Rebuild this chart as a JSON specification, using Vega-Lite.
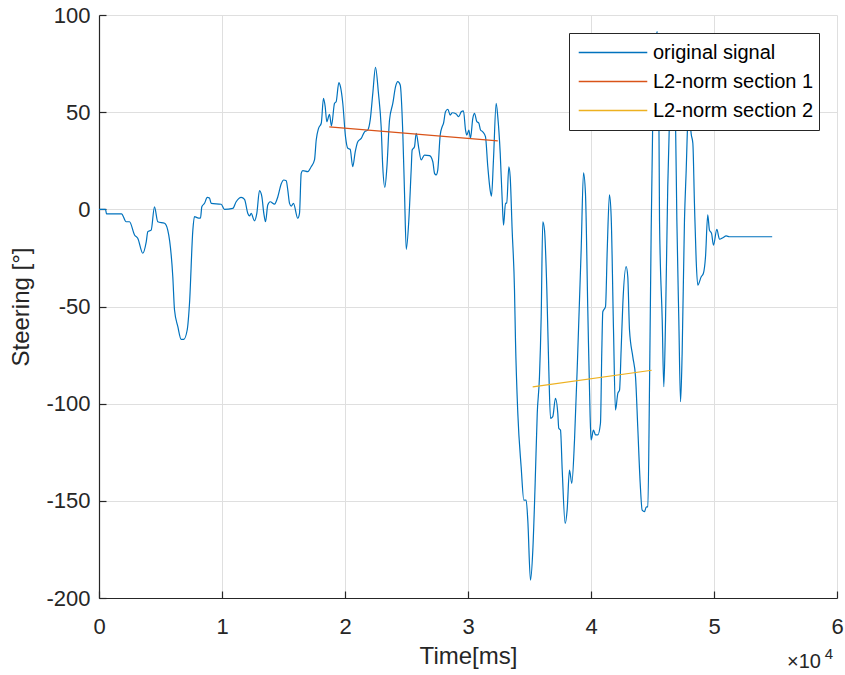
{
  "$schema": "https://vega.github.io/schema/vega-lite/v6.json",
  "width": 738,
  "height": 583,
  "autosize": {"type": "none"},
  "padding": {"left": 99, "top": 15, "right": 8, "bottom": 77},
  "background": "white",
  "config": {
    "font": "Liberation Sans",
    "view": {"stroke": null},
    "axis": {
      "labelFont": "Liberation Sans",
      "titleFont": "Liberation Sans",
      "labelFontSize": 22,
      "titleFontSize": 24,
      "titleFontWeight": "normal",
      "labelColor": "#262626",
      "titleColor": "#262626",
      "domainColor": "#262626",
      "domainWidth": 1.2,
      "tickColor": "#262626",
      "tickWidth": 1.2,
      "tickSize": -7,
      "gridColor": "#dfdfdf",
      "gridWidth": 1,
      "labelFlush": false
    }
  },
  "datasets": {
    "signal": [
      {"t": 0, "v": 0, "series": "original signal"},
      {"t": 530, "v": 0, "series": "original signal"},
      {"t": 610, "v": -2.3, "series": "original signal"},
      {"t": 1830, "v": -2.3, "series": "original signal"},
      {"t": 2210, "v": -6.4, "series": "original signal"},
      {"t": 2480, "v": -6.4, "series": "original signal"},
      {"t": 2890, "v": -13.2, "series": "original signal"},
      {"t": 3150, "v": -14.9, "series": "original signal"},
      {"t": 3560, "v": -22.6, "series": "original signal"},
      {"t": 3840, "v": -16.7, "series": "original signal"},
      {"t": 3970, "v": -11.5, "series": "original signal"},
      {"t": 4240, "v": -10.7, "series": "original signal"},
      {"t": 4510, "v": 1.3, "series": "original signal"},
      {"t": 4780, "v": -6.4, "series": "original signal"},
      {"t": 5330, "v": -7.2, "series": "original signal"},
      {"t": 5590, "v": -10.7, "series": "original signal"},
      {"t": 6000, "v": -34.7, "series": "original signal"},
      {"t": 6140, "v": -51.8, "series": "original signal"},
      {"t": 6410, "v": -60.4, "series": "original signal"},
      {"t": 6680, "v": -66.9, "series": "original signal"},
      {"t": 6890, "v": -66.9, "series": "original signal"},
      {"t": 7170, "v": -62.1, "series": "original signal"},
      {"t": 7360, "v": -48.2, "series": "original signal"},
      {"t": 7630, "v": -10.7, "series": "original signal"},
      {"t": 7760, "v": -3.8, "series": "original signal"},
      {"t": 8090, "v": -4.5, "series": "original signal"},
      {"t": 8250, "v": -4.5, "series": "original signal"},
      {"t": 8360, "v": 1.3, "series": "original signal"},
      {"t": 8580, "v": 3.1, "series": "original signal"},
      {"t": 8800, "v": 6.2, "series": "original signal"},
      {"t": 8980, "v": 5.8, "series": "original signal"},
      {"t": 9120, "v": 3.1, "series": "original signal"},
      {"t": 9930, "v": 2.6, "series": "original signal"},
      {"t": 10200, "v": 0, "series": "original signal"},
      {"t": 10880, "v": 0.5, "series": "original signal"},
      {"t": 11150, "v": 3.9, "series": "original signal"},
      {"t": 11560, "v": 6.2, "series": "original signal"},
      {"t": 11830, "v": 5.1, "series": "original signal"},
      {"t": 12100, "v": -2.1, "series": "original signal"},
      {"t": 12240, "v": -3.4, "series": "original signal"},
      {"t": 12370, "v": -2.1, "series": "original signal"},
      {"t": 12640, "v": -5.9, "series": "original signal"},
      {"t": 12830, "v": -2.1, "series": "original signal"},
      {"t": 13050, "v": 9.6, "series": "original signal"},
      {"t": 13240, "v": 6.5, "series": "original signal"},
      {"t": 13400, "v": -2.1, "series": "original signal"},
      {"t": 13540, "v": -6.4, "series": "original signal"},
      {"t": 13720, "v": 2.2, "series": "original signal"},
      {"t": 13920, "v": 3.9, "series": "original signal"},
      {"t": 14270, "v": 2.7, "series": "original signal"},
      {"t": 14540, "v": 6.5, "series": "original signal"},
      {"t": 14810, "v": 13.0, "series": "original signal"},
      {"t": 15020, "v": 15.1, "series": "original signal"},
      {"t": 15220, "v": 14.7, "series": "original signal"},
      {"t": 15350, "v": 9.9, "series": "original signal"},
      {"t": 15490, "v": 3.1, "series": "original signal"},
      {"t": 15630, "v": 1.7, "series": "original signal"},
      {"t": 15810, "v": 3.1, "series": "original signal"},
      {"t": 16160, "v": -4.6, "series": "original signal"},
      {"t": 16300, "v": -2.1, "series": "original signal"},
      {"t": 16440, "v": 18.5, "series": "original signal"},
      {"t": 16570, "v": 19.9, "series": "original signal"},
      {"t": 16980, "v": 19.4, "series": "original signal"},
      {"t": 17250, "v": 21.9, "series": "original signal"},
      {"t": 17520, "v": 25.4, "series": "original signal"},
      {"t": 17660, "v": 35.7, "series": "original signal"},
      {"t": 17850, "v": 41.7, "series": "original signal"},
      {"t": 18070, "v": 44.3, "series": "original signal"},
      {"t": 18250, "v": 57.1, "series": "original signal"},
      {"t": 18390, "v": 52.8, "series": "original signal"},
      {"t": 18520, "v": 45.1, "series": "original signal"},
      {"t": 18740, "v": 48.9, "series": "original signal"},
      {"t": 18900, "v": 42.9, "series": "original signal"},
      {"t": 19150, "v": 54.6, "series": "original signal"},
      {"t": 19280, "v": 55.4, "series": "original signal"},
      {"t": 19500, "v": 65.2, "series": "original signal"},
      {"t": 19630, "v": 63.1, "series": "original signal"},
      {"t": 19820, "v": 54.6, "series": "original signal"},
      {"t": 20040, "v": 37.4, "series": "original signal"},
      {"t": 20230, "v": 31.4, "series": "original signal"},
      {"t": 20420, "v": 30.9, "series": "original signal"},
      {"t": 20630, "v": 21.9, "series": "original signal"},
      {"t": 20830, "v": 29.6, "series": "original signal"},
      {"t": 21040, "v": 34.8, "series": "original signal"},
      {"t": 21320, "v": 36.5, "series": "original signal"},
      {"t": 21590, "v": 39.9, "series": "original signal"},
      {"t": 21850, "v": 40.8, "series": "original signal"},
      {"t": 22050, "v": 46.0, "series": "original signal"},
      {"t": 22260, "v": 59.7, "series": "original signal"},
      {"t": 22480, "v": 73.1, "series": "original signal"},
      {"t": 22720, "v": 59.7, "series": "original signal"},
      {"t": 22940, "v": 42.5, "series": "original signal"},
      {"t": 23070, "v": 21.9, "series": "original signal"},
      {"t": 23240, "v": 11.3, "series": "original signal"},
      {"t": 23400, "v": 21.1, "series": "original signal"},
      {"t": 23620, "v": 46.0, "series": "original signal"},
      {"t": 23890, "v": 54.6, "series": "original signal"},
      {"t": 24110, "v": 63.1, "series": "original signal"},
      {"t": 24290, "v": 65.7, "series": "original signal"},
      {"t": 24490, "v": 64.0, "series": "original signal"},
      {"t": 24700, "v": 39.1, "series": "original signal"},
      {"t": 24840, "v": 8.2, "series": "original signal"},
      {"t": 24980, "v": -20.6, "series": "original signal"},
      {"t": 25190, "v": -5.5, "series": "original signal"},
      {"t": 25380, "v": 20.2, "series": "original signal"},
      {"t": 25460, "v": 30.5, "series": "original signal"},
      {"t": 25650, "v": 32.2, "series": "original signal"},
      {"t": 25790, "v": 39.1, "series": "original signal"},
      {"t": 26000, "v": 31.4, "series": "original signal"},
      {"t": 26190, "v": 25.4, "series": "original signal"},
      {"t": 26460, "v": 27.9, "series": "original signal"},
      {"t": 26870, "v": 27.6, "series": "original signal"},
      {"t": 27140, "v": 24.5, "series": "original signal"},
      {"t": 27280, "v": 18.5, "series": "original signal"},
      {"t": 27410, "v": 17.7, "series": "original signal"},
      {"t": 27540, "v": 20.2, "series": "original signal"},
      {"t": 27740, "v": 38.2, "series": "original signal"},
      {"t": 27900, "v": 42.5, "series": "original signal"},
      {"t": 28010, "v": 44.3, "series": "original signal"},
      {"t": 28170, "v": 50.2, "series": "original signal"},
      {"t": 28360, "v": 51.5, "series": "original signal"},
      {"t": 28550, "v": 48.5, "series": "original signal"},
      {"t": 28720, "v": 49.7, "series": "original signal"},
      {"t": 29040, "v": 49.0, "series": "original signal"},
      {"t": 29250, "v": 47.7, "series": "original signal"},
      {"t": 29450, "v": 50.2, "series": "original signal"},
      {"t": 29630, "v": 50.7, "series": "original signal"},
      {"t": 29800, "v": 40.8, "series": "original signal"},
      {"t": 29900, "v": 38.2, "series": "original signal"},
      {"t": 30070, "v": 40.8, "series": "original signal"},
      {"t": 30200, "v": 36.5, "series": "original signal"},
      {"t": 30390, "v": 46.8, "series": "original signal"},
      {"t": 30530, "v": 49.4, "series": "original signal"},
      {"t": 30720, "v": 45.1, "series": "original signal"},
      {"t": 30880, "v": 44.4, "series": "original signal"},
      {"t": 31020, "v": 40.8, "series": "original signal"},
      {"t": 31200, "v": 39.9, "series": "original signal"},
      {"t": 31420, "v": 37.4, "series": "original signal"},
      {"t": 31610, "v": 21.9, "series": "original signal"},
      {"t": 31800, "v": 9.9, "series": "original signal"},
      {"t": 31910, "v": 6.8, "series": "original signal"},
      {"t": 32070, "v": 25.4, "series": "original signal"},
      {"t": 32290, "v": 54.6, "series": "original signal"},
      {"t": 32420, "v": 47.7, "series": "original signal"},
      {"t": 32620, "v": 28.8, "series": "original signal"},
      {"t": 32780, "v": 4.8, "series": "original signal"},
      {"t": 32890, "v": -8.1, "series": "original signal"},
      {"t": 33050, "v": 3.1, "series": "original signal"},
      {"t": 33150, "v": 3.2, "series": "original signal"},
      {"t": 33320, "v": 21.9, "series": "original signal"},
      {"t": 33430, "v": 16.8, "series": "original signal"},
      {"t": 33590, "v": -10.7, "series": "original signal"},
      {"t": 33780, "v": -41.5, "series": "original signal"},
      {"t": 33860, "v": -67.3, "series": "original signal"},
      {"t": 34050, "v": -105.0, "series": "original signal"},
      {"t": 34320, "v": -132.5, "series": "original signal"},
      {"t": 34540, "v": -149.6, "series": "original signal"},
      {"t": 34730, "v": -149.6, "series": "original signal"},
      {"t": 34860, "v": -159.9, "series": "original signal"},
      {"t": 35080, "v": -190.8, "series": "original signal"},
      {"t": 35270, "v": -175.4, "series": "original signal"},
      {"t": 35460, "v": -141.0, "series": "original signal"},
      {"t": 35630, "v": -105.0, "series": "original signal"},
      {"t": 35810, "v": -86.2, "series": "original signal"},
      {"t": 35950, "v": -55.3, "series": "original signal"},
      {"t": 36080, "v": -6.4, "series": "original signal"},
      {"t": 36220, "v": -10.7, "series": "original signal"},
      {"t": 36410, "v": -41.5, "series": "original signal"},
      {"t": 36570, "v": -82.7, "series": "original signal"},
      {"t": 36710, "v": -107.6, "series": "original signal"},
      {"t": 36890, "v": -106.7, "series": "original signal"},
      {"t": 37110, "v": -97.3, "series": "original signal"},
      {"t": 37300, "v": -105.0, "series": "original signal"},
      {"t": 37380, "v": -112.7, "series": "original signal"},
      {"t": 37520, "v": -113.6, "series": "original signal"},
      {"t": 37660, "v": -134.2, "series": "original signal"},
      {"t": 37900, "v": -161.6, "series": "original signal"},
      {"t": 38060, "v": -154.8, "series": "original signal"},
      {"t": 38250, "v": -134.2, "series": "original signal"},
      {"t": 38440, "v": -141.0, "series": "original signal"},
      {"t": 38660, "v": -118.7, "series": "original signal"},
      {"t": 38930, "v": -72.4, "series": "original signal"},
      {"t": 39200, "v": -21.0, "series": "original signal"},
      {"t": 39390, "v": 18.8, "series": "original signal"},
      {"t": 39550, "v": 8.2, "series": "original signal"},
      {"t": 39740, "v": -51.8, "series": "original signal"},
      {"t": 39930, "v": -106.7, "series": "original signal"},
      {"t": 40010, "v": -118.7, "series": "original signal"},
      {"t": 40200, "v": -113.6, "series": "original signal"},
      {"t": 40370, "v": -116.1, "series": "original signal"},
      {"t": 40550, "v": -116.1, "series": "original signal"},
      {"t": 40770, "v": -110.1, "series": "original signal"},
      {"t": 40880, "v": -72.4, "series": "original signal"},
      {"t": 40960, "v": -52.7, "series": "original signal"},
      {"t": 41180, "v": -50.1, "series": "original signal"},
      {"t": 41320, "v": -20.9, "series": "original signal"},
      {"t": 41500, "v": 7.4, "series": "original signal"},
      {"t": 41640, "v": -3.8, "series": "original signal"},
      {"t": 41830, "v": -62.1, "series": "original signal"},
      {"t": 41990, "v": -103.3, "series": "original signal"},
      {"t": 42180, "v": -94.7, "series": "original signal"},
      {"t": 42320, "v": -93.0, "series": "original signal"},
      {"t": 42450, "v": -72.4, "series": "original signal"},
      {"t": 42590, "v": -48.4, "series": "original signal"},
      {"t": 42860, "v": -29.5, "series": "original signal"},
      {"t": 42990, "v": -34.7, "series": "original signal"},
      {"t": 43130, "v": -62.1, "series": "original signal"},
      {"t": 43400, "v": -75.9, "series": "original signal"},
      {"t": 43620, "v": -86.2, "series": "original signal"},
      {"t": 43800, "v": -111.9, "series": "original signal"},
      {"t": 44000, "v": -141.0, "series": "original signal"},
      {"t": 44160, "v": -154.8, "series": "original signal"},
      {"t": 44350, "v": -155.6, "series": "original signal"},
      {"t": 44490, "v": -153.2, "series": "original signal"},
      {"t": 44620, "v": -153.1, "series": "original signal"},
      {"t": 44760, "v": -89.6, "series": "original signal"},
      {"t": 44890, "v": -12.4, "series": "original signal"},
      {"t": 45020, "v": 46.0, "series": "original signal"},
      {"t": 45160, "v": 76.8, "series": "original signal"},
      {"t": 45380, "v": 91.4, "series": "original signal"},
      {"t": 45490, "v": 76.8, "series": "original signal"},
      {"t": 45570, "v": -5.5, "series": "original signal"},
      {"t": 45790, "v": -57.0, "series": "original signal"},
      {"t": 45920, "v": -91.3, "series": "original signal"},
      {"t": 46060, "v": -57.0, "series": "original signal"},
      {"t": 46240, "v": 11.6, "series": "original signal"},
      {"t": 46380, "v": 46.0, "series": "original signal"},
      {"t": 46540, "v": 71.7, "series": "original signal"},
      {"t": 46710, "v": 71.7, "series": "original signal"},
      {"t": 46870, "v": 46.0, "series": "original signal"},
      {"t": 46980, "v": -5.5, "series": "original signal"},
      {"t": 47140, "v": -57.0, "series": "original signal"},
      {"t": 47280, "v": -99.0, "series": "original signal"},
      {"t": 47410, "v": -74.1, "series": "original signal"},
      {"t": 47600, "v": -5.5, "series": "original signal"},
      {"t": 47740, "v": 20.2, "series": "original signal"},
      {"t": 47870, "v": 46.0, "series": "original signal"},
      {"t": 47970, "v": 53.6, "series": "original signal"},
      {"t": 48050, "v": 46.0, "series": "original signal"},
      {"t": 48140, "v": 39.1, "series": "original signal"},
      {"t": 48280, "v": 34.0, "series": "original signal"},
      {"t": 48410, "v": 3.1, "series": "original signal"},
      {"t": 48550, "v": -26.1, "series": "original signal"},
      {"t": 48680, "v": -39.0, "series": "original signal"},
      {"t": 48960, "v": -34.7, "series": "original signal"},
      {"t": 49140, "v": -32.9, "series": "original signal"},
      {"t": 49310, "v": -24.4, "series": "original signal"},
      {"t": 49490, "v": -2.9, "series": "original signal"},
      {"t": 49630, "v": -10.7, "series": "original signal"},
      {"t": 49800, "v": -12.4, "series": "original signal"},
      {"t": 49960, "v": -18.4, "series": "original signal"},
      {"t": 50230, "v": -10.3, "series": "original signal"},
      {"t": 50450, "v": -15.4, "series": "original signal"},
      {"t": 50720, "v": -14.6, "series": "original signal"},
      {"t": 50990, "v": -13.7, "series": "original signal"},
      {"t": 51260, "v": -14.1, "series": "original signal"},
      {"t": 54730, "v": -14.1, "series": "original signal"},
      {"t": 18720, "v": 42.4, "series": "L2-norm section 1"},
      {"t": 32420, "v": 35.2, "series": "L2-norm section 1"},
      {"t": 35260, "v": -91.4, "series": "L2-norm section 2"},
      {"t": 44940, "v": -82.8, "series": "L2-norm section 2"}
    ],
    "exponent": [{"base": "×10", "power": "4"}]
  },
  "layer": [
    {
      "data": {"name": "signal"},
      "mark": {"type": "line", "strokeWidth": 1.2, "interpolate": "monotone", "clip": true},
      "encoding": {
        "x": {
          "field": "t", "type": "quantitative",
          "scale": {"domain": [0, 60000], "nice": false, "zero": false},
          "axis": {
            "values": [0, 10000, 20000, 30000, 40000, 50000, 60000],
            "labelExpr": "'' + (datum.value / 10000)",
            "title": "Time[ms]",
            "labelPadding": 25,
            "titlePadding": 7
          }
        },
        "y": {
          "field": "v", "type": "quantitative",
          "scale": {"domain": [-200, 100], "nice": false, "zero": false},
          "axis": {
            "values": [-200, -150, -100, -50, 0, 50, 100],
            "labelExpr": "'' + datum.value",
            "title": "Steering [°]",
            "labelPadding": 16,
            "titlePadding": 12
          }
        },
        "color": {
          "field": "series", "type": "nominal",
          "scale": {
            "domain": ["original signal", "L2-norm section 1", "L2-norm section 2"],
            "range": ["#0072BD", "#D95319", "#EDB120"]
          },
          "legend": {
            "title": null,
            "orient": "top-right",
            "offset": 18,
            "fillColor": "white",
            "strokeColor": "#262626",
            "padding": 5,
            "symbolType": "stroke",
            "symbolSize": 4700,
            "symbolStrokeWidth": 1.3,
            "symbolOffset": 4,
            "labelFont": "Liberation Sans",
            "labelFontSize": 20,
            "labelColor": "#000000",
            "labelOffset": 5,
            "labelLimit": 400,
            "clipHeight": 29,
            "rowPadding": 0
          }
        },
        "order": {"field": "t", "type": "quantitative"}
      }
    },
    {
      "data": {"name": "exponent"},
      "mark": {"type": "text", "align": "right", "baseline": "alphabetic", "dx": -16, "dy": 70, "fontSize": 20, "font": "Liberation Sans", "color": "#262626"},
      "encoding": {
        "x": {"datum": 60000},
        "y": {"datum": -200},
        "text": {"field": "base"}
      }
    },
    {
      "data": {"name": "exponent"},
      "mark": {"type": "text", "align": "right", "baseline": "alphabetic", "dx": -4, "dy": 61, "fontSize": 15, "font": "Liberation Sans", "color": "#262626"},
      "encoding": {
        "x": {"datum": 60000},
        "y": {"datum": -200},
        "text": {"field": "power"}
      }
    }
  ]
}
